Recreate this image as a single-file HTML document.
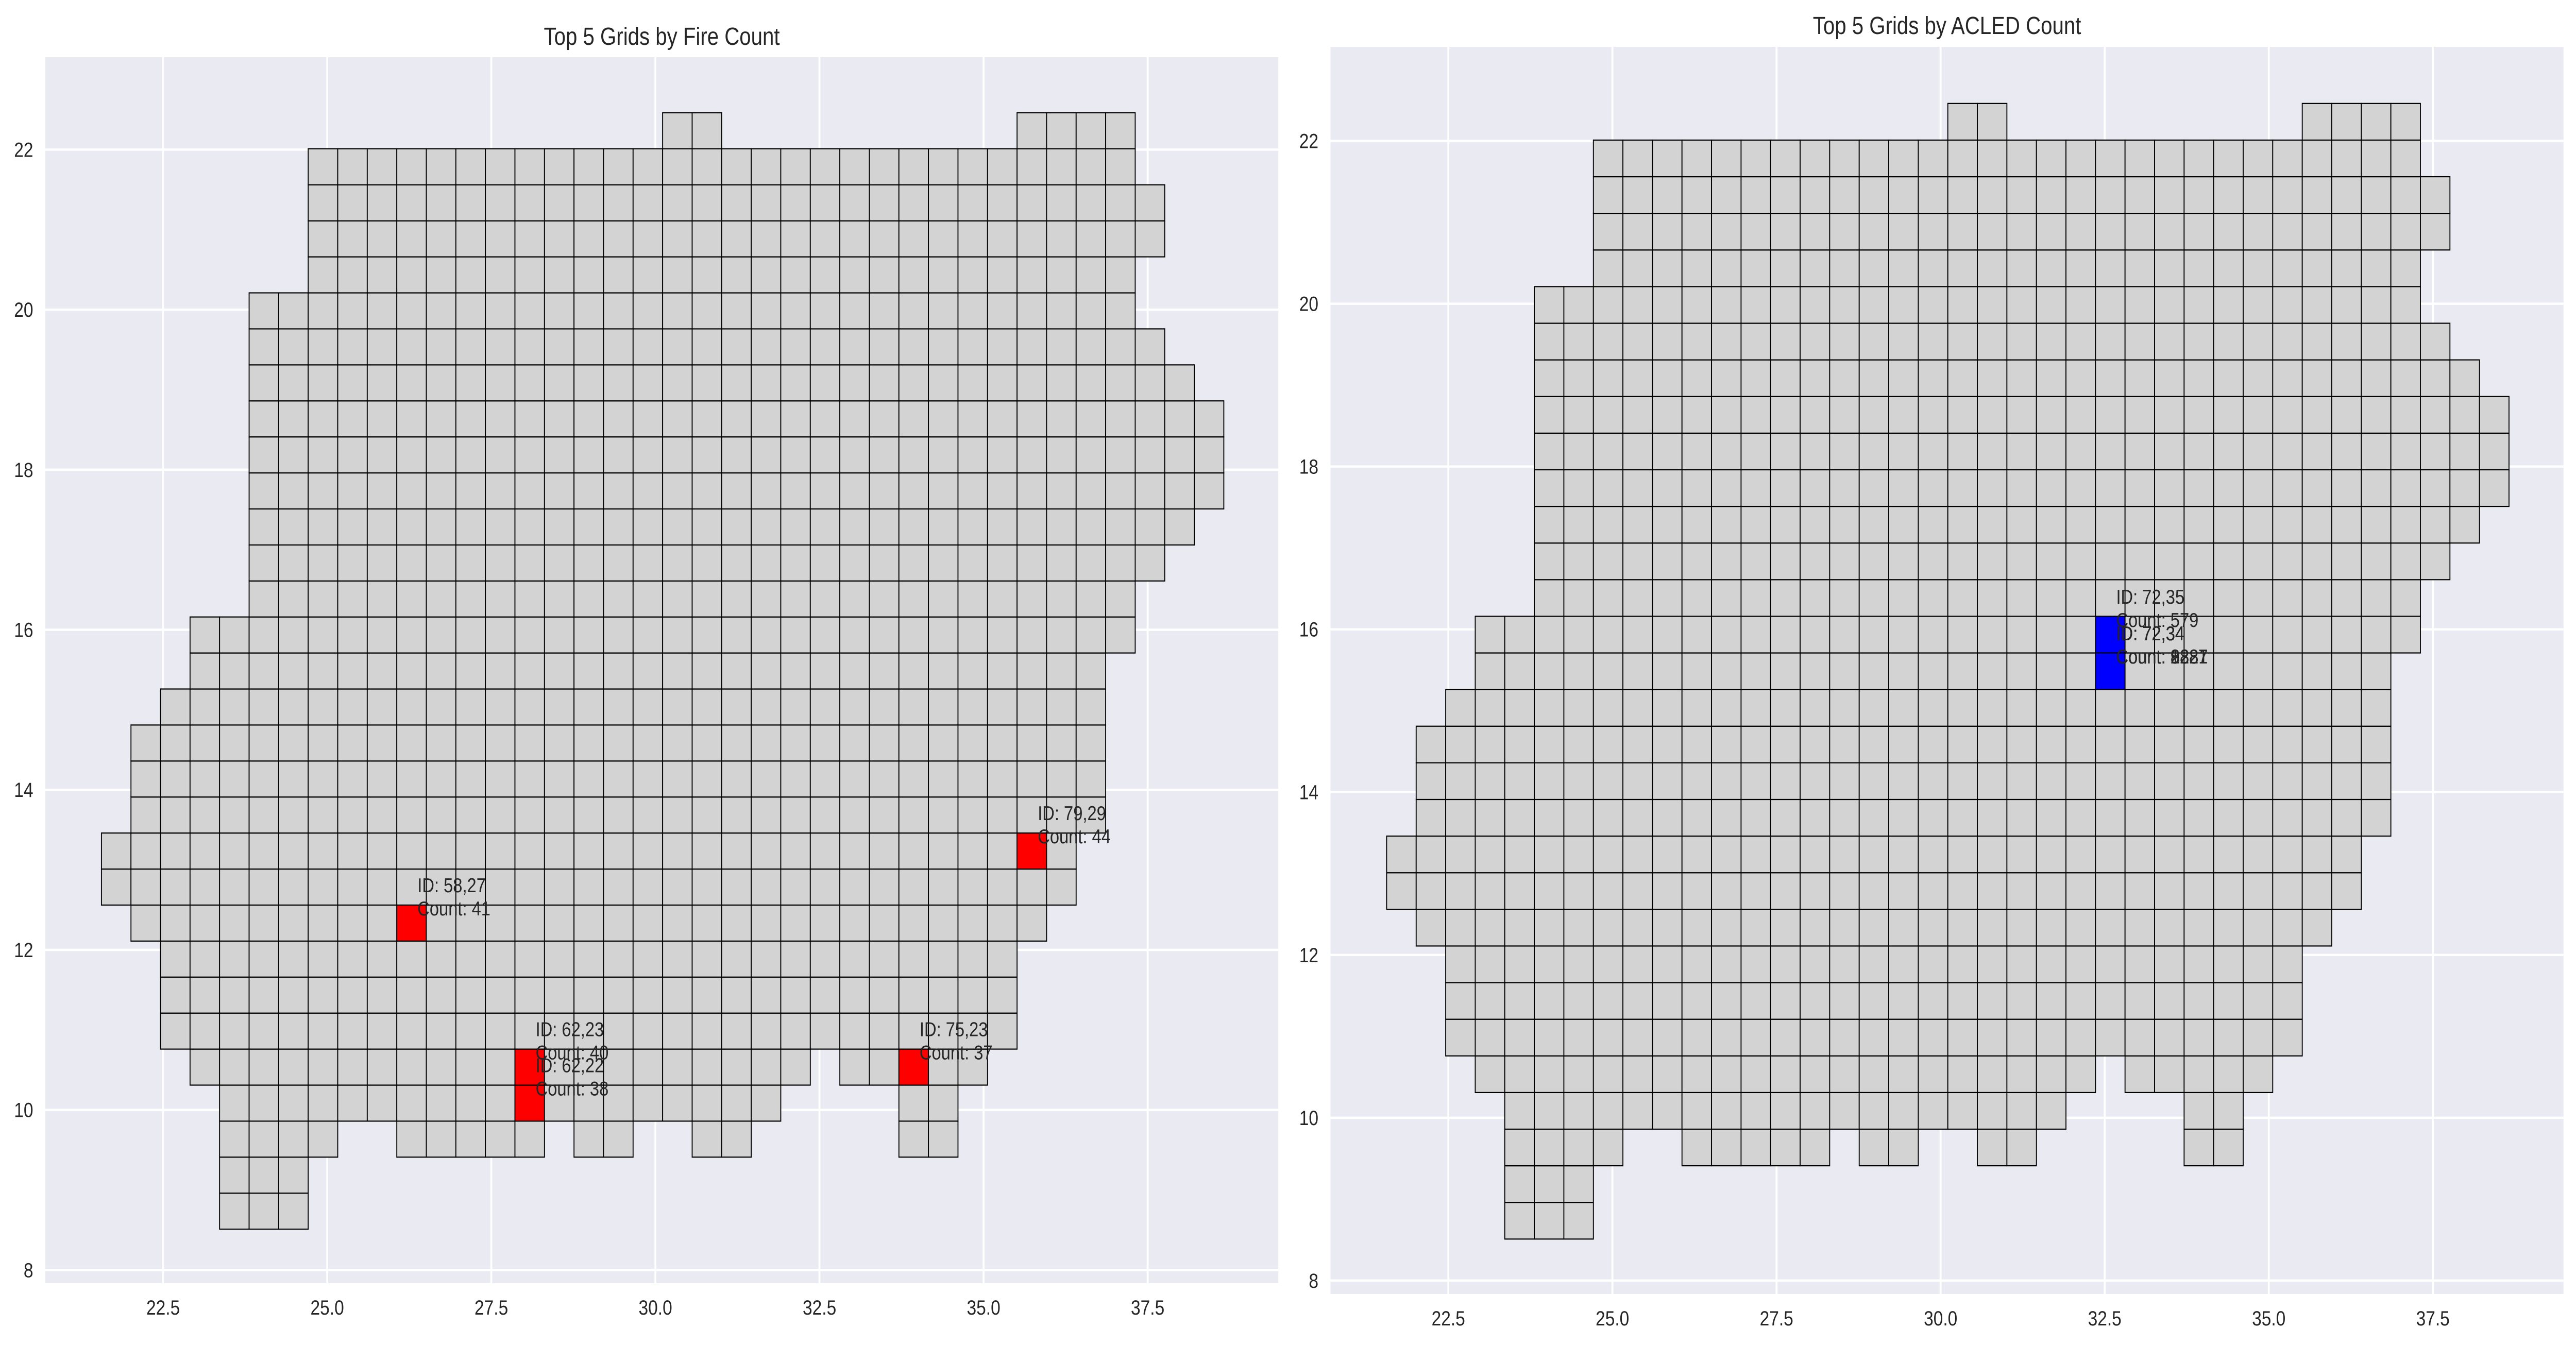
<!DOCTYPE html>
<html>
<head>
<meta charset="utf-8">
<style>
html,body{margin:0;padding:0;background:#fff;overflow:hidden;width:100vw;height:100vh;}
svg{display:block;width:100vw;height:100vh;}
text{font-family:"Liberation Sans",sans-serif;fill:#262626;}
</style>
</head>
<body>
<svg id="fig" xmlns="http://www.w3.org/2000/svg" viewBox="0 0 5969 2611" preserveAspectRatio="none">
  <rect x="0" y="0" width="5969" height="2611" fill="#ffffff"/>
  <g id="left"></g>
  <g id="right"></g>
</svg>
<script>
// Grid footprint: each row index with [startCol, endCol) spans
const gridRowIds = [19,20,21,22,23,24,25,26,27,28,29,30,31,32,33,34,35,36,37,38,39,40,41,42,43,44,45,46,47,48,49];
const gridRowSpans = [
  [[52,55]],
  [[52,55]],
  [[52,56],[58,63],[64,66],[68,70],[75,77]],
  [[52,71],[75,77]],
  [[51,72],[73,78]],
  [[50,79]],
  [[50,79]],
  [[50,79]],
  [[49,80]],
  [[48,81]],
  [[48,81]],
  [[49,82]],
  [[49,82]],
  [[49,82]],
  [[50,82]],
  [[51,82]],
  [[51,83]],
  [[53,83]],
  [[53,84]],
  [[53,85]],
  [[53,86]],
  [[53,86]],
  [[53,86]],
  [[53,85]],
  [[53,84]],
  [[53,83]],
  [[55,83]],
  [[55,84]],
  [[55,84]],
  [[55,83]],
  [[67,69],[79,83]]
];
// Top fire grids
const fireCols = [79,58,62,62,75];
const fireRows = [29,27,23,22,23];
const fireCounts = [44,41,40,38,37];
// Top ACLED grids
const acledCols = [72,72,72,72,72];
const acledRows = [35,34,34,34,34];
const acledCounts = ["579","8887","2281","1227","9387"];
// Axis ticks
const xTicks = [22.5,25.0,27.5,30.0,32.5,35.0,37.5];
const xTickLabels = ["22.5","25.0","27.5","30.0","32.5","35.0","37.5"];
const yTicks = [8,10,12,14,16,18,20,22];
const yTickLabels = ["8","10","12","14","16","18","20","22"];
const cellSize = 0.45;
const cellOffset = -0.04;

const NS = "http://www.w3.org/2000/svg";
const XMIN = 20.705, XMAX = 39.49, YMIN = 7.835, YMAX = 23.155;

function mk(tag, attrs, parent){
  const e = document.createElementNS(NS, tag);
  for (const k in attrs) e.setAttribute(k, attrs[k]);
  parent.appendChild(e);
  return e;
}

function drawPanel(g, box, title, topCols, topRows, topCounts, hiColor, titleY){
  const sx = v => box.x0 + (v - XMIN) * (box.x1 - box.x0) / (XMAX - XMIN);
  const sy = v => box.y1 - (v - YMIN) * (box.y1 - box.y0) / (YMAX - YMIN);

  const bg = mk("rect", {x:box.x0, y:box.y0, width:box.x1-box.x0, height:box.y1-box.y0, fill:"#EAEAF2"}, g);
  
  

  xTicks.forEach((t,i)=>{
    const ln = mk("line", {x1:sx(t), x2:sx(t), y1:box.y0, y2:box.y1, stroke:"#ffffff", "stroke-width":4.5}, g);
    
    
    const tx = mk("text", {x:sx(t), y:box.y1+61, "font-size":40, "text-anchor":"middle"}, g);
    tx.textContent = xTickLabels[i];
    
    
  });
  yTicks.forEach((t,i)=>{
    const ln = mk("line", {x1:box.x0, x2:box.x1, y1:sy(t), y2:sy(t), stroke:"#ffffff", "stroke-width":4.5}, g);
    
    
    const tx = mk("text", {x:box.x0-28, y:sy(t)+14, "font-size":40, "text-anchor":"end"}, g);
    tx.textContent = yTickLabels[i];
    
    
  });

  const cellG = mk("g", {}, g);
  
  
  const hiKeys = {};
  topCols.forEach((c,i)=>{ hiKeys[c+","+topRows[i]] = true; });
  gridRowIds.forEach((r,ri)=>{
    gridRowSpans[ri].forEach(sp=>{
      for (let c = sp[0]; c < sp[1]; c++){
        const xa = c*cellSize + cellOffset, ya = r*cellSize + cellOffset;
        const px0 = sx(xa), px1 = sx(xa+cellSize), py0 = sy(ya+cellSize), py1 = sy(ya);
        const fill = hiKeys[c+","+r] ? hiColor : "#D3D3D3";
        const rc = mk("rect", {x:px0, y:py0, width:px1-px0, height:py1-py0, fill:fill, stroke:"#000000", "stroke-width":2.2}, cellG);
        
        
      }
    });
  });

  topCols.forEach((c,i)=>{
    const r = topRows[i];
    const xa = c*cellSize + cellOffset, ya = r*cellSize + cellOffset;
    const tx0 = sx(xa + 0.315);
    const cy = sy(ya + cellSize/2);
    const t1 = mk("text", {x:tx0, y:cy-60, "font-size":39}, g);
    t1.textContent = "ID: " + c + "," + r;
    
    
    const t2 = mk("text", {x:tx0, y:cy-15, "font-size":39}, g);
    t2.textContent = "Count: " + topCounts[i];
    
    
  });

  const tt = mk("text", {x:(box.x0+box.x1)/2, y:titleY, "font-size":48, "text-anchor":"middle"}, g);
  tt.textContent = title;
  
  
}

drawPanel(document.getElementById("left"), {x0:105, x1:2962, y0:111, y1:2491},
  "Top 5 Grids by Fire Count", fireCols, fireRows, fireCounts, "#FF0000", 87);
drawPanel(document.getElementById("right"), {x0:3083, x1:5940, y0:91, y1:2512},
  "Top 5 Grids by ACLED Count", acledCols, acledRows, acledCounts, "#0000FF", 66);
</script>
</body>
</html>
